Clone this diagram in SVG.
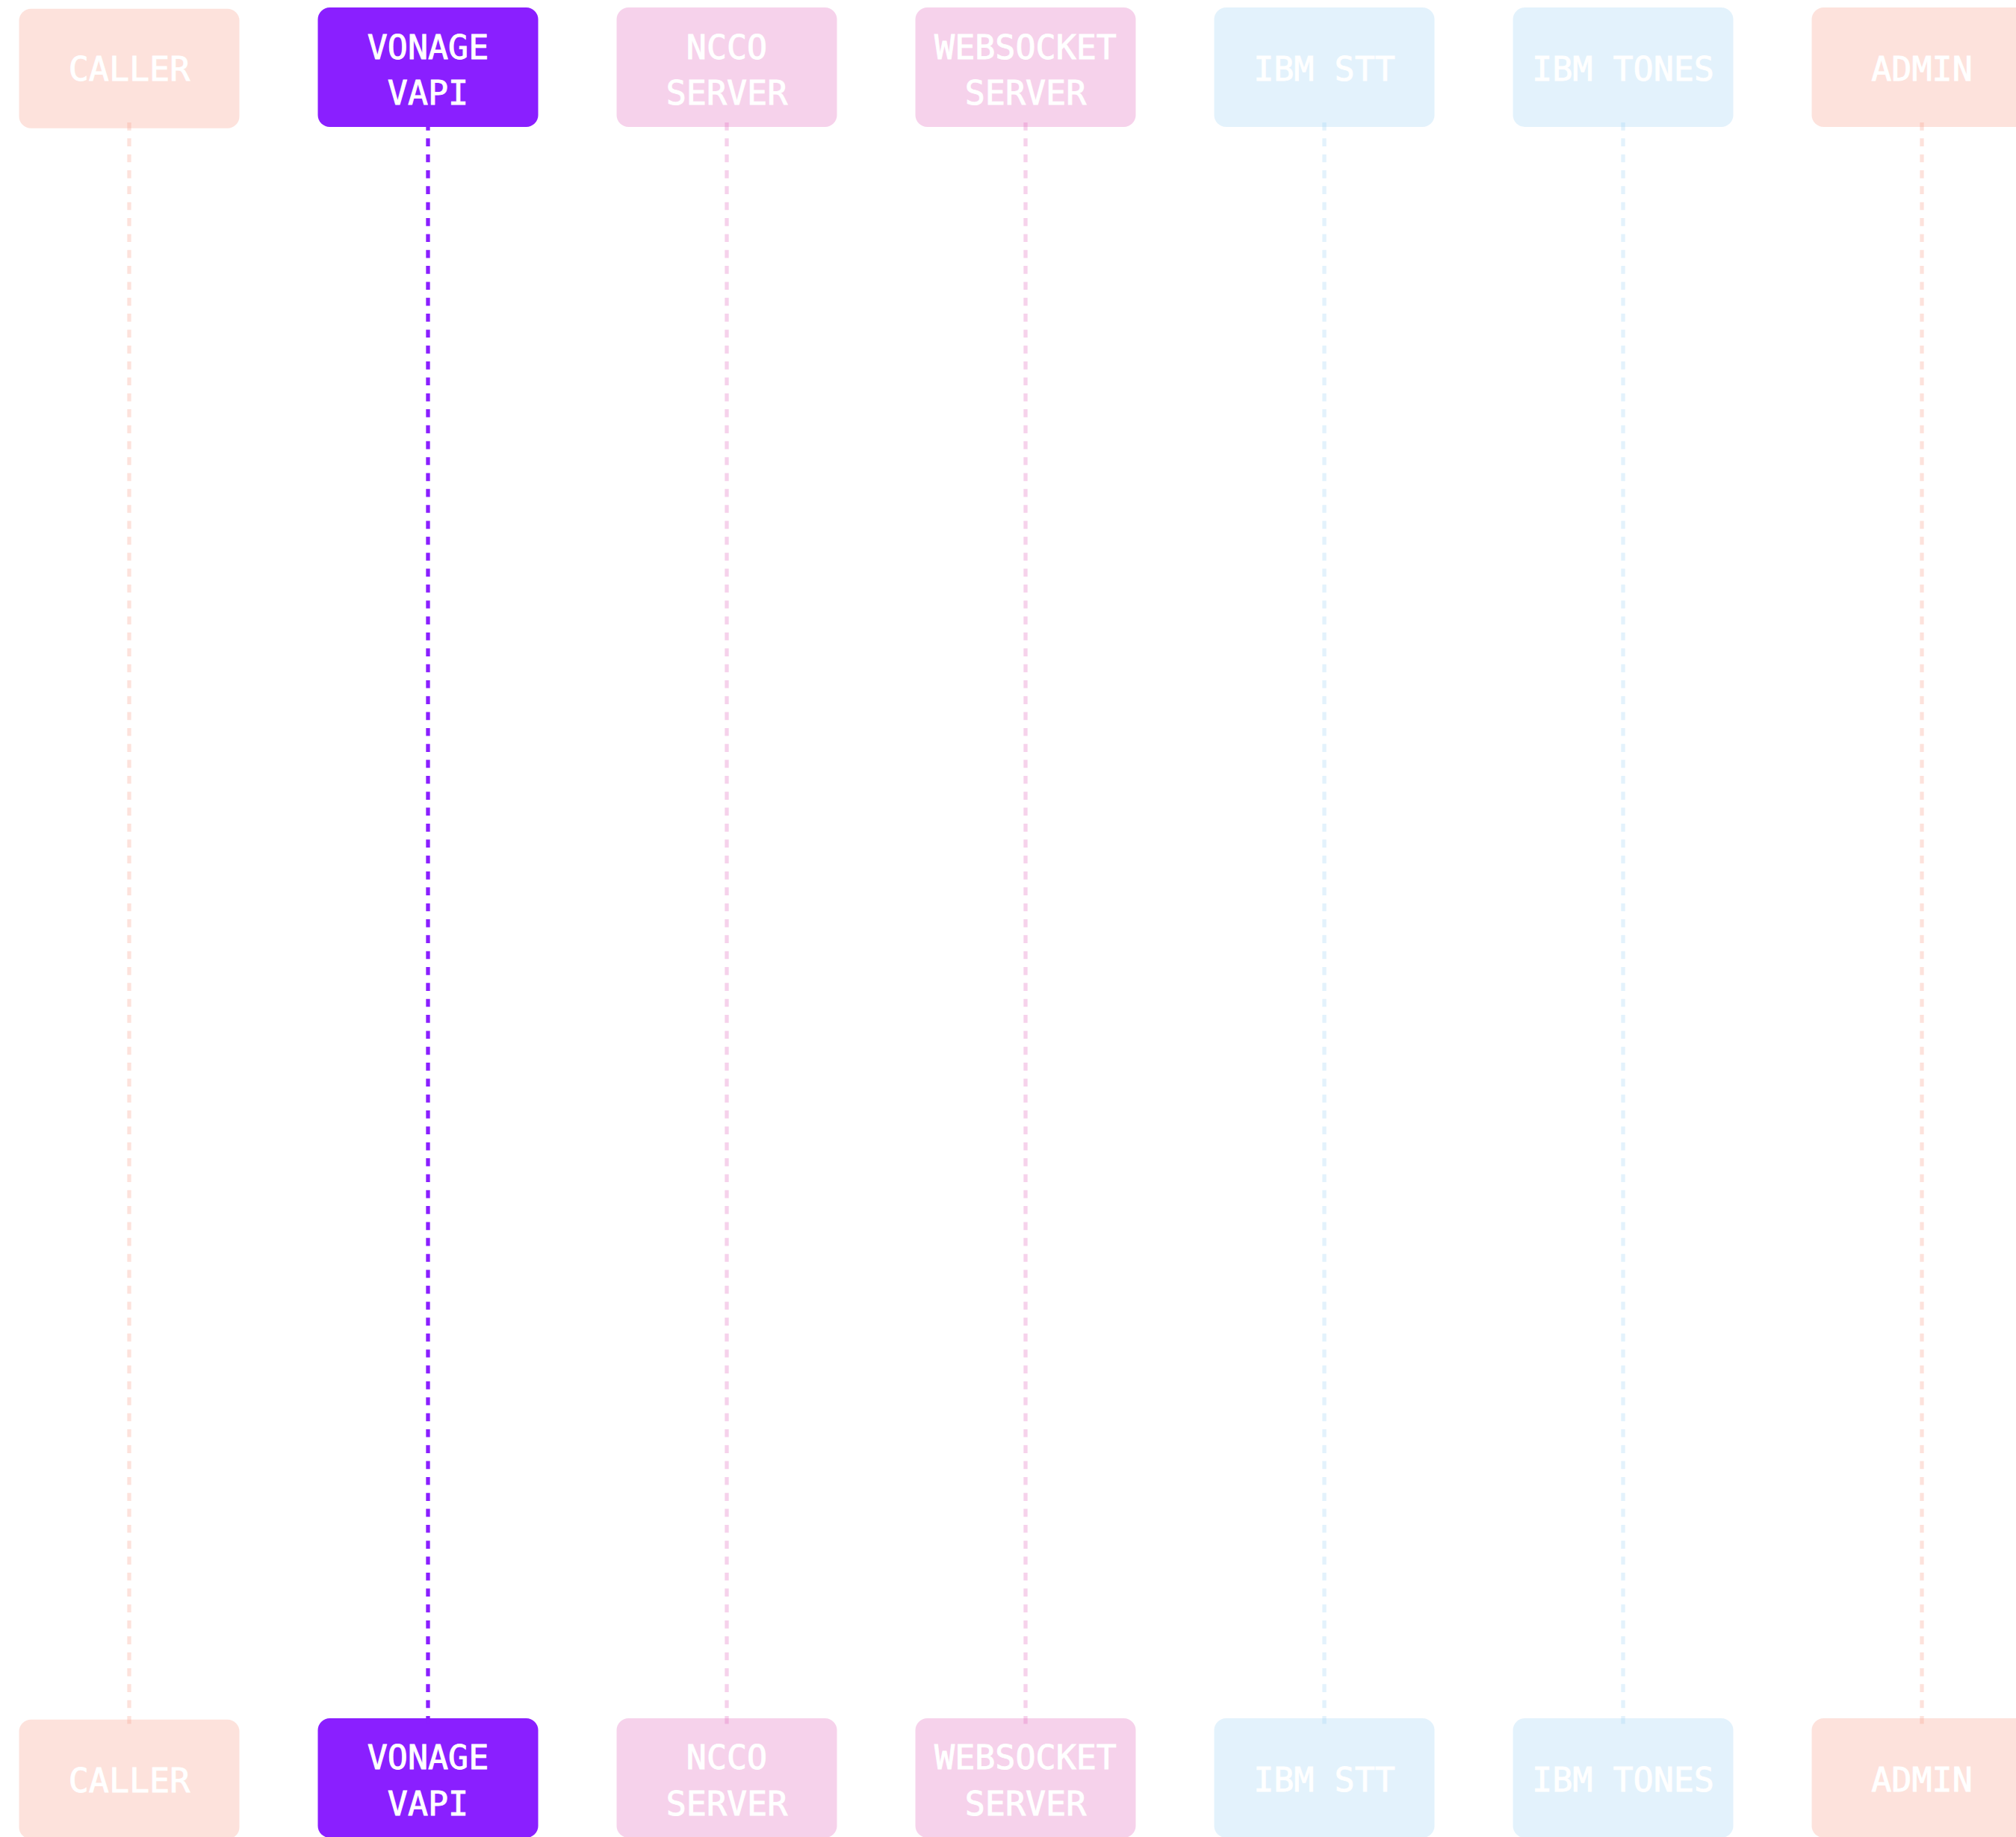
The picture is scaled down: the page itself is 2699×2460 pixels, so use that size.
<svg xmlns="http://www.w3.org/2000/svg" width="2699" height="2460" viewBox="0 0 2699 2460">
<style>
.box{stroke:none}
.salmon{fill:#f89e8a;fill-opacity:0.3}
.pink{fill:#e169bc;fill-opacity:0.3}
.blue{fill:#a2d4f5;fill-opacity:0.3}
.vonage{fill:#8a1fff}
.life{fill:none;stroke-width:5.33;stroke-dasharray:10.67 10.67}
.l-salmon{stroke:#f89e8a;stroke-opacity:0.3}
.l-pink{stroke:#e169bc;stroke-opacity:0.3}
.l-blue{stroke:#a2d4f5;stroke-opacity:0.3}
.l-vonage{stroke:#8a1fff}
.lbl{font-family:"DejaVu Sans Mono","Liberation Mono",monospace;font-size:45px;fill:#ffffff;stroke:#ffffff;stroke-width:0.9px;text-anchor:middle}
</style>
<rect width="2699" height="2460" fill="#ffffff"/>
<g id="actor-caller-top"><rect class="box salmon" x="25.5" y="11.7" width="295" height="160" rx="16"/></g>
<g id="actor-vonage-top"><rect class="box vonage" x="425.5" y="10" width="295" height="160" rx="16"/></g>
<g id="actor-ncco-top"><rect class="box pink" x="825.5" y="10" width="295" height="160" rx="16"/></g>
<g id="actor-websocket-top"><rect class="box pink" x="1225.5" y="10" width="295" height="160" rx="16"/></g>
<g id="actor-stt-top"><rect class="box blue" x="1625.5" y="10" width="295" height="160" rx="16"/></g>
<g id="actor-tones-top"><rect class="box blue" x="2025.5" y="10" width="295" height="160" rx="16"/></g>
<g id="actor-admin-top"><rect class="box salmon" x="2425.5" y="10" width="295" height="160" rx="16"/></g>
<g id="actor-caller-bottom"><rect class="box salmon" x="25.5" y="2302.7" width="295" height="160" rx="16"/></g>
<g id="actor-vonage-bottom"><rect class="box vonage" x="425.5" y="2301" width="295" height="160" rx="16"/></g>
<g id="actor-ncco-bottom"><rect class="box pink" x="825.5" y="2301" width="295" height="160" rx="16"/></g>
<g id="actor-websocket-bottom"><rect class="box pink" x="1225.5" y="2301" width="295" height="160" rx="16"/></g>
<g id="actor-stt-bottom"><rect class="box blue" x="1625.5" y="2301" width="295" height="160" rx="16"/></g>
<g id="actor-tones-bottom"><rect class="box blue" x="2025.5" y="2301" width="295" height="160" rx="16"/></g>
<g id="actor-admin-bottom"><rect class="box salmon" x="2425.5" y="2301" width="295" height="160" rx="16"/></g>
<g id="connectors">
<line class="life l-salmon" x1="173" y1="164" x2="173" y2="2308.5"/>
<line class="life l-vonage" x1="573" y1="164" x2="573" y2="2308.5"/>
<line class="life l-pink" x1="973" y1="164" x2="973" y2="2308.5"/>
<line class="life l-pink" x1="1373" y1="164" x2="1373" y2="2308.5"/>
<line class="life l-blue" x1="1773" y1="164" x2="1773" y2="2308.5"/>
<line class="life l-blue" x1="2173" y1="164" x2="2173" y2="2308.5"/>
<line class="life l-salmon" x1="2573" y1="164" x2="2573" y2="2308.5"/>
</g>
<g id="labels">
<text class="lbl" x="173" y="107.7">CALLER</text>
<text class="lbl" x="573" y="79.3">VONAGE</text>
<text class="lbl" x="573" y="140">VAPI</text>
<text class="lbl" x="973" y="79.3">NCCO</text>
<text class="lbl" x="973" y="140">SERVER</text>
<text class="lbl" x="1373" y="79.3">WEBSOCKET</text>
<text class="lbl" x="1373" y="140">SERVER</text>
<text class="lbl" x="1773" y="107.7">IBM STT</text>
<text class="lbl" x="2173" y="107.7">IBM TONES</text>
<text class="lbl" x="2573" y="107.7">ADMIN</text>
<text class="lbl" x="173" y="2400">CALLER</text>
<text class="lbl" x="573" y="2369.3">VONAGE</text>
<text class="lbl" x="573" y="2431">VAPI</text>
<text class="lbl" x="973" y="2369.3">NCCO</text>
<text class="lbl" x="973" y="2431">SERVER</text>
<text class="lbl" x="1373" y="2369.3">WEBSOCKET</text>
<text class="lbl" x="1373" y="2431">SERVER</text>
<text class="lbl" x="1773" y="2398.7">IBM STT</text>
<text class="lbl" x="2173" y="2398.7">IBM TONES</text>
<text class="lbl" x="2573" y="2398.7">ADMIN</text>
</g>
</svg>
